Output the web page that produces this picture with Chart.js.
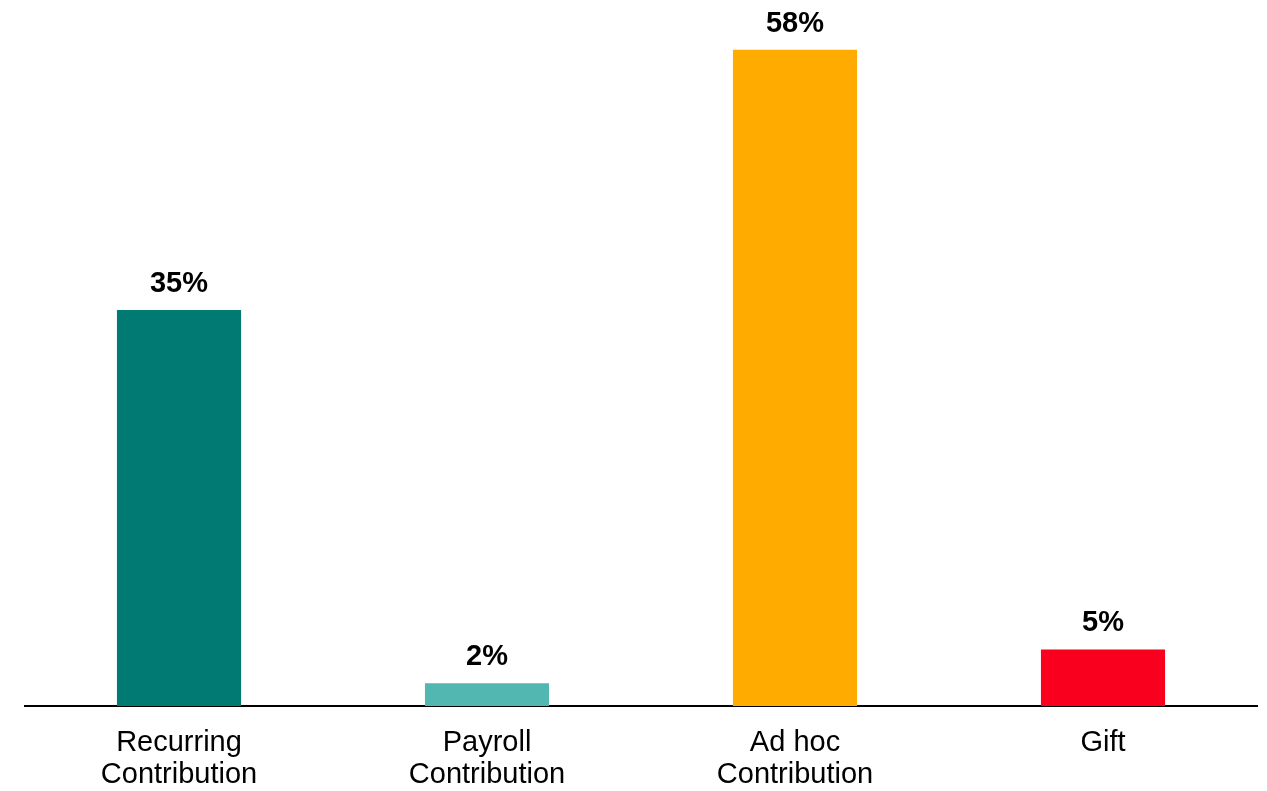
<!DOCTYPE html>
<html>
<head>
<meta charset="utf-8">
<title>Contribution types</title>
<script src="https://cdn.jsdelivr.net/npm/chart.js@4/dist/chart.umd.min.js"></script>
<style>
    html, body { margin: 0; padding: 0; background: #fff; }
    #chart { display: block; }
</style>
</head>
<body>
<canvas id="chart" width="1267" height="791"></canvas>
<script>
// Share of contributions by type (%)
const categories = [
    ['Recurring', 'Contribution'],
    ['Payroll', 'Contribution'],
    ['Ad hoc', 'Contribution'],
    ['Gift']
];
const shares = [35, 2, 58, 5];
const barColors = ['#007A73', '#52B7B1', '#FFAB00', '#F8001E'];

const fontFamily = '"Liberation Sans", Arial, sans-serif';

// Draws the percentage above each bar
const valueLabels = {
    id: 'valueLabels',
    afterDatasetsDraw(chart) {
        const ctx = chart.ctx;
        const meta = chart.getDatasetMeta(0);
        ctx.save();
        ctx.font = 'bold 29px ' + fontFamily;
        ctx.fillStyle = '#000';
        ctx.textAlign = 'center';
        ctx.textBaseline = 'alphabetic';
        meta.data.forEach((bar, i) => {
            ctx.fillText(shares[i] + '%', bar.x, bar.y - 18);
        });
        ctx.restore();
    }
};

document.addEventListener('DOMContentLoaded', function() {
    const ctx = document.getElementById('chart').getContext('2d');
    new Chart(ctx, {
        type: 'bar',
        data: {
            labels: categories,
            datasets: [{
                data: shares,
                backgroundColor: barColors,
                borderWidth: 0,
                categoryPercentage: 1,
                barPercentage: 0.403
            }]
        },
        options: {
            responsive: false,
            animation: false,
            layout: {
                padding: { top: 27, left: 25, right: 10, bottom: 0 }
            },
            plugins: {
                legend: { display: false },
                tooltip: { enabled: false }
            },
            scales: {
                x: {
                    grid: { display: false, drawTicks: false },
                    border: { display: true, color: '#000', width: 2 },
                    ticks: {
                        color: '#000',
                        padding: 21,
                        maxRotation: 0,
                        font: { family: fontFamily, size: 29, lineHeight: 1.103 }
                    },
                    afterFit(scale) {
                        scale.height = 85;
                    }
                },
                y: {
                    display: false,
                    min: 0,
                    max: 60
                }
            }
        },
        plugins: [valueLabels]
    });
});
</script>
</body>
</html>
